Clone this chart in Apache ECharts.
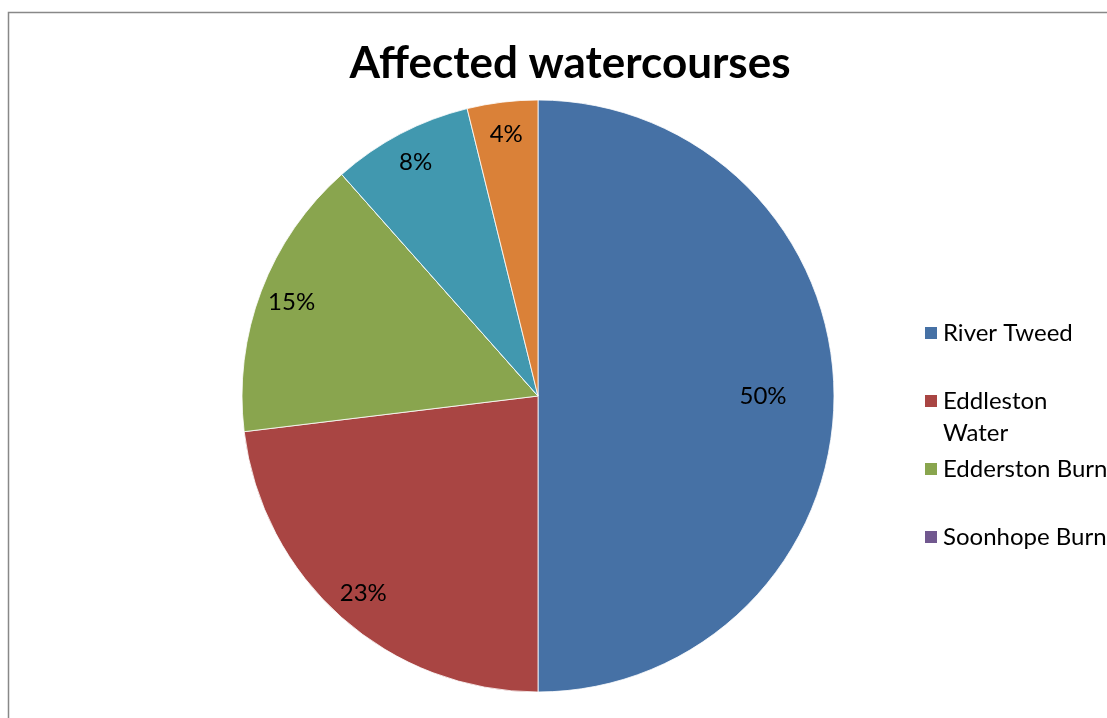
<!DOCTYPE html>
<html><head><meta charset="utf-8">
<script src="https://cdn.jsdelivr.net/npm/echarts@6/dist/echarts.min.js"></script>
<style>html,body{margin:0;padding:0;background:#fff;overflow:hidden}#c{width:1107px;height:718px}</style>
</head><body><div id="c"></div>
<script>
const chartTitle = 'Affected watercourses';
const categories = ['River Tweed', 'Eddleston Water', 'Edderston Burn', 'Soonhope Burn', 'Watercourse 5', 'Watercourse 6'];
const values = [13, 6, 4, 0, 2, 1];
const colors = ['#4671A5', '#A94543', '#89A54E', '#71588F', '#4198AF', '#DA8138'];
const legendNames = ['River Tweed', 'Eddleston Water', 'Edderston Burn', 'Soonhope Burn'];

const FONT = 'Lato';
const R = 296;
const CENTER = [538, 396];
const pieData = categories.map((n, i) => ({ name: n, value: values[i] }));
const pct = p => Math.round(p.percent) + '%';

const labelRing = (r0, r1, pick) => ({
  type: 'pie', center: CENTER, radius: [r0 * R, r1 * R], startAngle: 90, clockwise: true,
  silent: true, avoidLabelOverlap: false, stillShowZeroSum: true,
  itemStyle: { color: 'rgba(0,0,0,0)', borderWidth: 0 },
  label: { show: true, position: 'inside', color: '#000', fontFamily: FONT, fontSize: 24,
    formatter: p => (p.value > 0 && pick(p)) ? pct(p) : '' },
  labelLine: { show: false }, emphasis: { disabled: true },
  data: pieData
});

// legend entries as three-line blocks so the marker sits on the first text line
const legendText = n => n === 'Eddleston Water' ? ' \nEddleston\nWater' : ' \n' + n + '\n ';

const chart = echarts.init(document.getElementById('c'), null, { renderer: 'canvas' });
chart.setOption({
  animation: false,
  backgroundColor: '#fff',
  color: colors,
  title: {
    text: chartTitle, left: 565, top: 37, textAlign: 'center',
    textStyle: { fontFamily: FONT, fontSize: 44, fontWeight: 'bold', color: '#000' }
  },
  graphic: [{
    type: 'rect', silent: true, z: -1,
    shape: { x: 8.5, y: 12.5, width: 1300, height: 1000 },
    style: { fill: 'none', stroke: '#888888', lineWidth: 1.5 }
  }],
  legend: {
    orient: 'vertical', left: 918, top: 280, icon: 'rect', itemWidth: 14, itemHeight: 14,
    itemGap: -28, itemTextGap: 7, selectedMode: false,
    textStyle: { fontFamily: FONT, fontSize: 24, color: '#000', lineHeight: 32 },
    formatter: legendText,
    data: legendNames
  },
  series: [
    {
      type: 'pie', center: CENTER, radius: R, startAngle: 90, clockwise: true,
      avoidLabelOverlap: false, stillShowZeroSum: true,
      itemStyle: { borderColor: '#ffffff', borderWidth: 0.8 },
      label: { show: false }, labelLine: { show: false }, emphasis: { disabled: true },
      data: pieData
    },
    labelRing(0.70, 0.80, p => p.percent >= 40),
    labelRing(0.83, 0.93, p => p.percent < 40)
  ]
});
</script></body></html>
